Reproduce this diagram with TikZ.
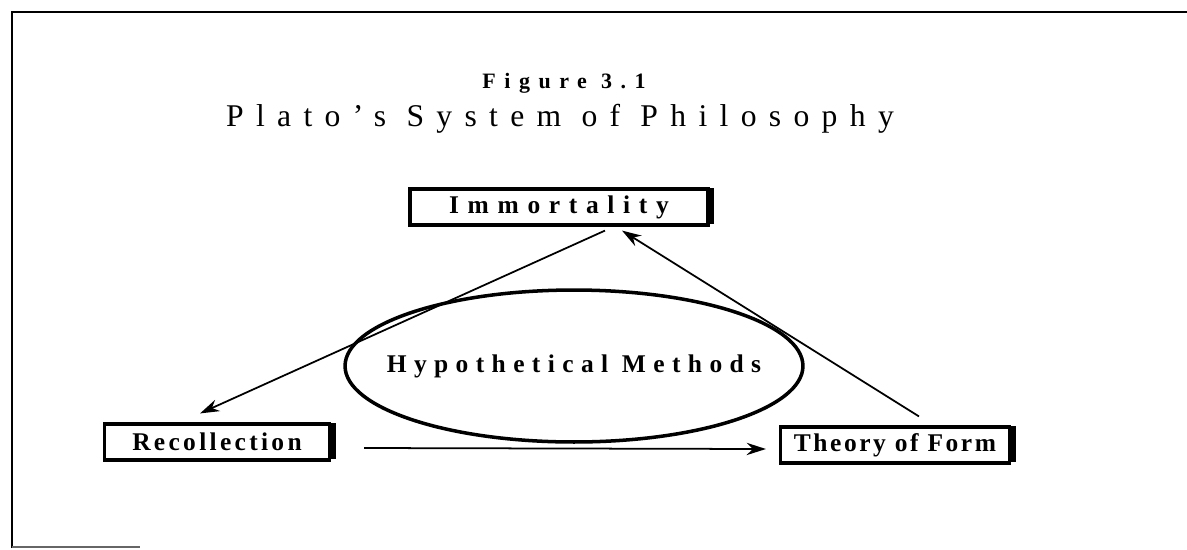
\documentclass[tikz,border=0pt]{standalone}
\usepackage{fontspec}
\setmainfont{Liberation Serif}
\usetikzlibrary{arrows.meta,shadows,shapes.geometric}

\tikzset{
  track/.style={font=\fontsize{14.5}{17}\selectfont\bfseries\addfontfeature{LetterSpace=#1}},
  conceptbox/.style={draw, line width=1.8pt, fill=white, inner sep=0pt,
    minimum height=0.72cm,
    drop shadow={shadow xshift=3.5pt, shadow yshift=0.5pt, opacity=1, fill=black}},
  methodring/.style={draw, ellipse, line width=2pt, inner sep=0pt,
    minimum width=9.16cm, minimum height=3.04cm},
  link/.style={line width=1pt, -{Stealth[length=11pt,width=7pt]}}
}

\begin{document}
\begin{tikzpicture}[x=0.02cm, y=-0.02cm]
\useasboundingbox (0,0) rectangle (1187,549);

% frame
\draw[line width=1.2pt] (12,548) -- (12,12) -- (1187,12);
\draw[line width=0.8pt, black!60] (12,547) -- (140,547);

% headings
\node[anchor=base, font=\fontsize{12.5}{15}\selectfont\bfseries\addfontfeature{LetterSpace=39}] (fig) at (564,88) {Figure 3.1};
\node[anchor=base, font=\fontsize{18}{22}\selectfont\addfontfeature{LetterSpace=39}] (title) at (560,126) {Plato's System of Philosophy};

% concepts
\node[conceptbox, track=34, minimum width=5.96cm] (immort) at (559,207) {Immortality};
\node[conceptbox, track=13, minimum width=4.5cm] (recol) at (217,442) {Recollection};
\node[conceptbox, track=10, minimum width=4.58cm] (theory) at (895,445) {Theory of Form};
\node[methodring, label={[track=29]center:Hypothetical Methods}] (method) at (574,366) {};

% links
\draw[link] ([shift={(46,4)}]immort.south) -- ([shift={(-17,-9)}]recol.north);
\draw[link] ([shift={(24,-9)}]theory.north) -- ([shift={(63,4)}]immort.south);
\draw[link] ([shift={(33,6)}]recol.east) -- ([shift={(-13,4)}]theory.west);
\end{tikzpicture}
\end{document}
